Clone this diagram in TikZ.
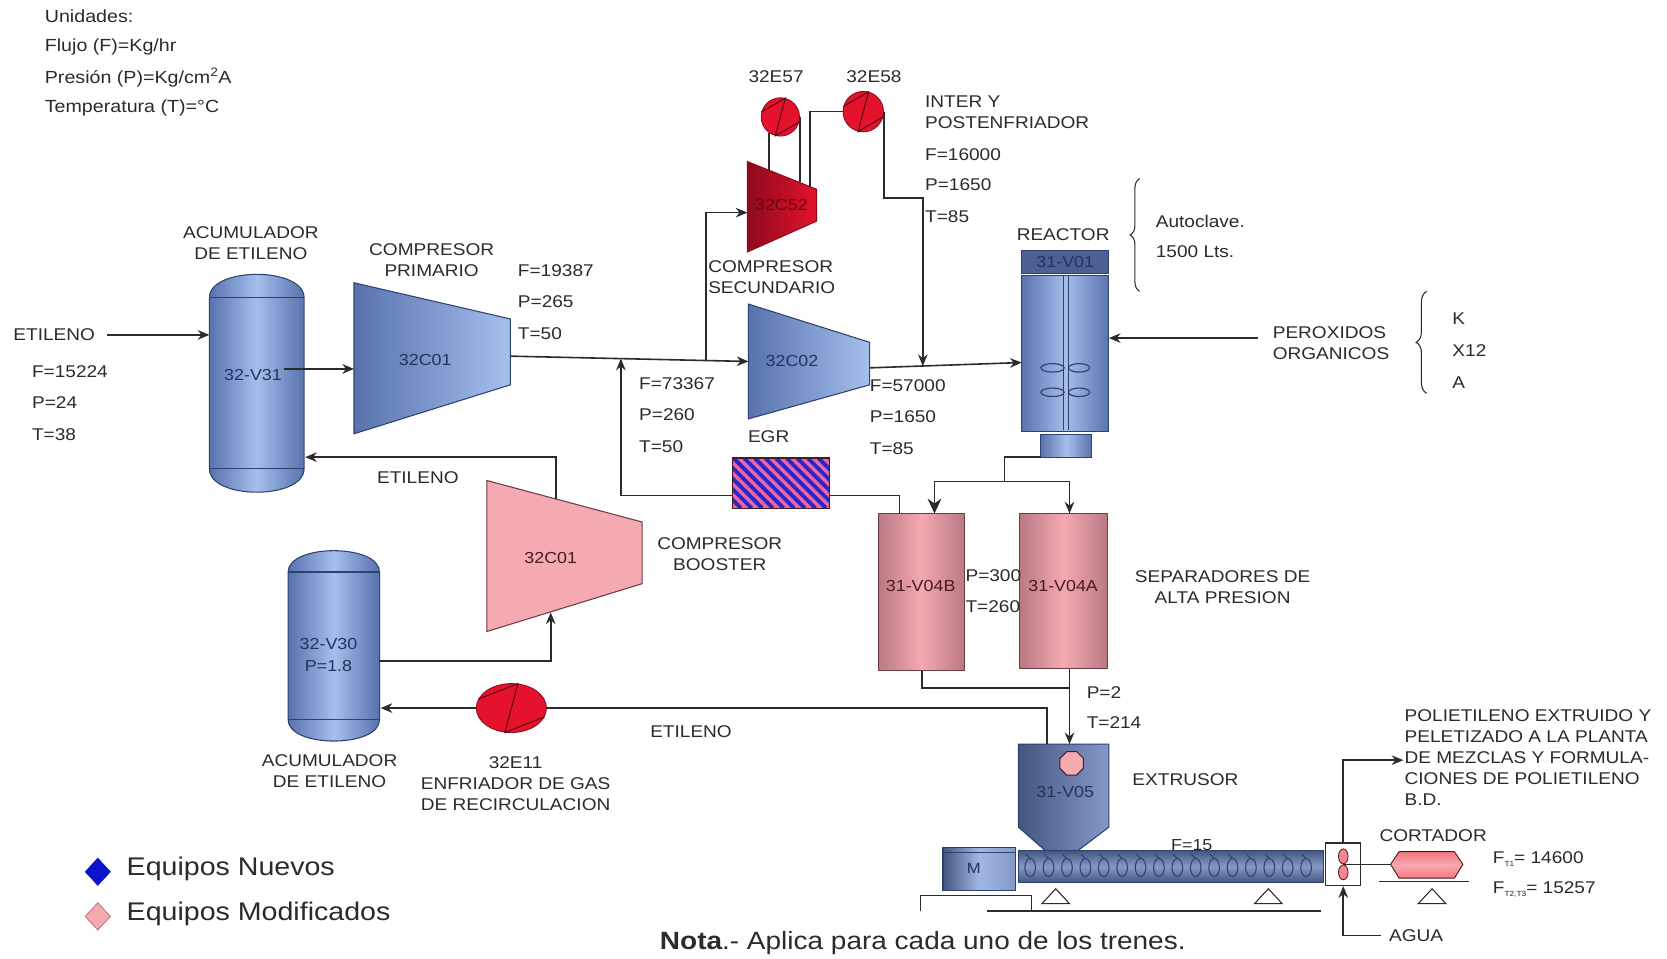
\documentclass[tikz,border=0pt]{standalone}
\usepackage{fontspec}
\setmainfont{Liberation Sans}[FakeStretch=1.12]
\usetikzlibrary{arrows.meta,decorations.pathreplacing,shapes.geometric}

\definecolor{ink}{HTML}{2B2B2B}
\definecolor{navy}{HTML}{2F4171}
\definecolor{tagblue}{HTML}{22335E}
\definecolor{blueL}{HTML}{A6BFEC}
\definecolor{blueD}{HTML}{5872AE}
\definecolor{slateD}{HTML}{44557E}
\definecolor{slateL}{HTML}{8599C9}
\definecolor{pinkL}{HTML}{F5A9B1}
\definecolor{pinkD}{HTML}{B97983}
\definecolor{pinkEdge}{HTML}{6E3C45}
\definecolor{maroon}{HTML}{4A1A22}
\definecolor{redE}{HTML}{E4122C}
\definecolor{redD}{HTML}{8E0A1C}
\definecolor{egrPink}{HTML}{E965A8}
\definecolor{egrBlue}{HTML}{2A26C4}
\definecolor{newBlue}{HTML}{0A12CC}

\begin{document}
\begin{tikzpicture}[x=1pt, y=-1pt,
  txt/.style={font=\fontsize{16}{19.5}\selectfont, text=ink, inner sep=0pt, align=center},
  txtl/.style={txt, anchor=west, align=left},
  unit/.style={txtl, font=\fontsize{16.5}{18}\selectfont},
  tag/.style={txt, font=\fontsize{15}{21}\selectfont, text=tagblue},
  ptag/.style={tag, text=maroon},
  pipe/.style={draw=ink, line width=1.5pt},
  flow/.style={pipe, -{Stealth[length=11pt,width=9pt]}},
  bigflow/.style={pipe, -{Stealth[length=14pt,width=13pt]}},
  vessel/.style={draw=navy, line width=1pt, left color=blueD, right color=blueD, middle color=blueL},
  compB/.style={draw=navy, line width=1pt, left color=blueD, right color=blueL},
  compR/.style={draw=redD, line width=1pt, left color=redD, right color=redE},
  compP/.style={draw=pinkEdge, line width=1pt, fill=pinkL},
  sepv/.style={draw=pinkEdge, line width=1.2pt, left color=pinkD, right color=pinkD, middle color=pinkL},
  hx/.style={circle, draw=redD, fill=redE, line width=0.8pt, inner sep=0pt},
  hxz/.style={draw=redD!60!black, line width=0.9pt},
  band/.style={draw=navy, line width=1.2pt},
  support/.style={draw=ink, line width=1pt, fill=white},
  bracestyle/.style={draw=ink, line width=1pt, decorate, decoration={brace, amplitude=9pt}}
]
\useasboundingbox (0,0) rectangle (1568,902);
\fill[white] (0,0) rectangle (1568,902);

% ---------- units ----------
\node[unit] (u0) at (42,15) {Unidades:};
\node[unit] (u1) at (42,44) {Flujo (F)=Kg/hr};
\node[unit] (u2) at (42,73) {Presión (P)=Kg/cm\textsuperscript{2}A};
\node[unit] (u3) at (42,102) {Temperatura (T)=°C};

% ---------- ethylene feed and accumulator 32-V31 ----------
\node[txt] (etin) at (51,315) {ETILENO};
\node[txtl] (fa) at (30,350) {F=15224};
\node[txtl] (pa) at (30,379) {P=24};
\node[txtl] (ta) at (30,409) {T=38};
\node[txt] (acu1) at (236,229) {ACUMULADOR\\DE ETILENO};

\path[vessel] (197,280) .. controls (197,250.7) and (286,250.7) .. (286,280)
  -- (286,441) .. controls (286,470.3) and (197,470.3) .. (197,441) -- cycle;
\draw[band] (197,280) -- (286,280) (197,441) -- (286,441);
\node[tag] (v31) at (238,353) {32-V31};
\coordinate (v31in) at (197,315);
\draw[flow] ([xshift=11pt]etin.east) -- (v31in);

% ---------- primary compressor 32C01 ----------
\node[txt] (cpri) at (406,245) {COMPRESOR\\PRIMARIO};
\path[compB] (333,266) -- (480,300) -- (480,362) -- (333,408) -- cycle;
\node[tag] (c1) at (400,339) {32C01};
\coordinate (c1in) at (333,347);
\draw[flow] ([xshift=2pt]v31.east |- c1in) -- (c1in);
\node[txtl] (fb) at (487,255) {F=19387};
\node[txtl] (pb) at (487,284) {P=265};
\node[txtl] (tb) at (487,314) {T=50};

% ---------- secondary compressor 32C02 and hyper stage 32C52 ----------
\path[compB] (704,286) -- (818,322) -- (818,362) -- (704,394) -- cycle;
\node[tag] (c2) at (745,340) {32C02};
\node[txtl] (csec) at (666,261) {COMPRESOR\\SECUNDARIO};
\node[txtl] (fc) at (601,361) {F=73367};
\node[txtl] (pc) at (601,390) {P=260};
\node[txtl] (tc) at (601,420) {T=50};

\path[compR] (703,152) -- (768,178) -- (768,208) -- (703,237) -- cycle;
\node[txt, font=\fontsize{15}{18}\selectfont, text=redD!70!black] (c52) at (735,193) {32C52};

% inter- and after-coolers
\node[hx, minimum size=36pt] (e57) at (734,110) {};
\node[hx, minimum size=38pt] (e58) at (812,105) {};
\node[txt] (l57) at (730,72) {32E57};
\node[txt] (l58) at (822,72) {32E58};
\node[txtl] (inter) at (870,105.5) {INTER Y\\POSTENFRIADOR};
\node[txtl] (fd) at (870,145) {F=16000};
\node[txtl] (pd) at (870,174) {P=1650};
\node[txtl] (td) at (870,204) {T=85};

\coordinate (c52t1) at (724,160.3);
\coordinate (c52t2) at (752,171.6);
\coordinate (c52t3) at (762,175.6);
\draw[pipe, line width=1.2pt] (e57.235) -- (e57.235 |- c52t1);
\draw[pipe, line width=1.2pt] (e57.east) -- (e57.east |- c52t2);
\draw[pipe, line width=1.2pt] (c52t3) |- (e58.west);

% main gas line
\coordinate (c1out) at (480,335);
\coordinate (c2in) at (704,340);
\draw[flow] (c1out) -- (c2in);
\coordinate (jb) at (664,339);
\coordinate (c52in) at (703,200);
\draw[flow] (jb) |- (c52in);

\coordinate (c2out) at (818,346);
\coordinate (rin) at (961,341);
\draw[flow] (c2out) -- (rin);
\coordinate (k58) at (868,186);
\coordinate (j3) at (868,344.3);
\draw[flow] (e58.east) |- (k58) -- (j3);
\node[txtl] (fe) at (818,363) {F=57000};
\node[txtl] (pe) at (818,392) {P=1650};
\node[txtl] (te) at (818,422) {T=85};

% ---------- EGR exchanger and recycle ----------
\node[txt] (egrl) at (723,411) {EGR};
\node[minimum width=91pt, minimum height=47pt, inner sep=0pt] (egr) at (734.5,454.5) {};
\begin{scope}
  \clip (egr.south west) rectangle (egr.north east);
  \fill[egrPink] (egr.south west) rectangle (egr.north east);
  \foreach \s in {630,640,...,790}
    \draw[egrBlue, line width=3.6pt] (\s,431) -- (\s+47,478);
\end{scope}
\draw[draw=maroon, line width=1pt] (egr.south west) rectangle (egr.north east);

\coordinate (jr) at (584,337.3);
\coordinate (egrL) at (689,466);
\coordinate (egrR) at (780,466);
\draw[flow] (egrL) -| (jr);

% ---------- reactor 31-V01 ----------
\node[txt] (reac) at (1000,221) {REACTOR};
\fill[draw=navy, line width=1pt, fill=blueD!85!black] (961,236) rectangle (1043,257);
\node[tag] (rv) at (1002,246.5) {31-V01};
\path[vessel] (961,259) rectangle (1043,406);
\draw[navy, line width=1pt] (1000,259) -- (1000,404) (1005,259) -- (1005,404);
\foreach \yy in {346,369} {
  \draw[navy, line width=1.1pt] (990,\yy) ellipse [x radius=11, y radius=4];
  \draw[navy, line width=1.1pt] (1015,\yy) ellipse [x radius=10, y radius=4];
}
\path[vessel] (979,409) rectangle (1027,430);

\draw[bracestyle] (1072,274) -- (1072,168);
\node[txtl] (auto) at (1087,208) {Autoclave.};
\node[txtl] (lts) at (1087,237) {1500 Lts.};

\node[txtl] (perox) at (1197,323) {PEROXIDOS\\ORGANICOS};
\coordinate (perin) at (1183,318);
\coordinate (rperox) at (1043,318);
\draw[flow] (perin) -- (rperox);
\draw[bracestyle, decoration={amplitude=10pt}] (1342,370) -- (1342,274);
\node[txtl] (kk) at (1366,300) {K};
\node[txtl] (xx) at (1366,330) {X12};
\node[txtl] (aa) at (1366,360) {A};

% ---------- high pressure separators ----------
\path[sepv] (826,483) rectangle (907,631);
\path[sepv] (959,483) rectangle (1042,629);
\node[ptag] (v4b) at (866,551) {31-V04B};
\node[ptag] (v4a) at (1000,551) {31-V04A};
\node[txtl] (pf) at (908,541) {P=300};
\node[txtl] (tf) at (908,571) {T=260};
\node[txt] (sepl) at (1150,552) {SEPARADORES DE\\ALTA PRESION};

\coordinate (rnoz) at (979,430);
\coordinate (jsplit) at (945,453);
\coordinate (v4bin) at (879,483);
\coordinate (v4ain) at (1006,483);
\draw[pipe] (rnoz) -| (jsplit);
\draw[bigflow] (jsplit) -| (v4bin);
\draw[flow] (jsplit) -| (v4ain);
\coordinate (v4bgas) at (846,483);
\draw[pipe] (v4bgas) |- (egrR);

\coordinate (v4bout) at (867,631);
\coordinate (jsep) at (1006,647);
\coordinate (v4aout) at (1006,629);
\coordinate (hopin) at (1006,700);
\draw[pipe] (v4bout) |- (jsep);
\draw[flow] (v4aout) -- (hopin);
\node[txtl] (pg) at (1022,651) {P=2};
\node[txtl] (tg) at (1022,680) {T=214};

% ---------- extruder ----------
\path[draw=navy, line width=1pt, top color=slateD, bottom color=slateD, middle color=slateL]
  (958,800) rectangle (1245,830);
\foreach \k in {0,...,15} {
  \draw[navy, line width=1pt] (969+17.3*\k,816) ellipse [x radius=5, y radius=8.5];
  \draw[navy, line width=1pt] (969+17.3*\k,807.5) -- ++(-4,-4);
}
\path[draw=navy, line width=1pt, left color=slateD, right color=slateL]
  (958,700) -- (1043,700) -- (1043,778) -- (1014,800) -- (983,800) -- (958,778) -- cycle;
\node[regular polygon, regular polygon sides=8, minimum size=24pt, inner sep=0pt,
  draw=maroon, fill=pinkL, line width=0.9pt] (oct) at (1008,718) {};
\node[tag] (v05) at (1002,745) {31-V05};
\node[txt] (extl) at (1115,733) {EXTRUSOR};
\node[txt, font=\fontsize{15}{18}\selectfont] (f15) at (1121,795) {F=15};

% motor and foundation
\path[draw=navy, line width=1pt, left color=slateD, right color=slateL, middle color=blueL!80!slateL]
  (887,797) rectangle (955,838);
\draw[navy, line width=1pt] (887,802) -- (955,802);
\node[tag, font=\fontsize{14}{16}\selectfont] (mot) at (916,817) {M};
\draw[pipe, line width=1.2pt] (866,857) -- (866,842) -- (970,842) -- (970,857);
\draw[pipe, line width=1.2pt] (928,857) -- (1243,857);
\draw[support] (993,836) -- (1006,850) -- (980,850) -- cycle;
\draw[support] (1193,836) -- (1206,850) -- (1180,850) -- cycle;

% ---------- cutter ----------
\node[draw=ink, line width=1.1pt, fill=white, minimum width=33pt, minimum height=40pt, inner sep=0pt] (cut) at (1263.5,813) {};
\coordinate (capL) at (1308,813);
\draw[pipe, line width=1.2pt] (cut.center) -- (capL);
\draw[draw=maroon, fill=pinkL!80!red, line width=0.8pt] (1263.5,805.5) ellipse [x radius=4.5, y radius=7];
\draw[draw=maroon, fill=pinkL!80!red, line width=0.8pt] (1263.5,820.5) ellipse [x radius=4.5, y radius=7];
\path[draw=maroon, line width=0.9pt, top color=pinkL!70!red, bottom color=pinkL!70!red, middle color=pinkL]
  (1308,813) -- (1316,801) -- (1368,801) -- (1376,813) -- (1368,826) -- (1316,826) -- cycle;
\draw[pipe, line width=1.2pt] (1297,829) -- (1382,829);
\draw[support] (1347,836) -- (1360,850) -- (1334,850) -- cycle;
\node[txt] (cort) at (1348,786) {CORTADOR};
\node[txtl] (ft1) at (1404,808) {F\raisebox{-3pt}{\fontsize{7}{7}\selectfont T1}= 14600};
\node[txtl] (ft2) at (1404,837) {F\raisebox{-3pt}{\fontsize{7}{7}\selectfont T2,T3}= 15257};

\node[txtl, font=\fontsize{16}{19.8}\selectfont] (prodl) at (1321,712.5)
  {POLIETILENO EXTRUIDO Y\\PELETIZADO A LA PLANTA\\DE MEZCLAS Y FORMULA-\\CIONES DE POLIETILENO\\B.D.};
\coordinate (prod) at (1320,715);
\draw[flow] (cut.north) |- (prod);

\node[txt] (agua) at (1332,880) {AGUA};
\draw[flow] ([xshift=-7pt]agua.west) -| (cut.south);

% ---------- booster section ----------
\node[txt] (etil2) at (393,449) {ETILENO};
\path[compP] (458,452) -- (604,491) -- (604,549) -- (458,594) -- cycle;
\node[ptag] (cb) at (518,525) {32C01};
\node[txt] (cbl) at (677,521.5) {COMPRESOR\\BOOSTER};

\path[vessel] (271,538) .. controls (271,511.3) and (357,511.3) .. (357,538)
  -- (357,677) .. controls (357,703.7) and (271,703.7) .. (271,677) -- cycle;
\draw[band] (271,538) -- (357,538) (271,677) -- (357,677);
\node[tag] (v30) at (309,616) {32-V30\\P=1.8};
\node[txt] (acu2) at (310,725.5) {ACUMULADOR\\DE ETILENO};

\coordinate (v30out) at (357,622);
\coordinate (bin) at (518,576);
\draw[flow] (v30out) -| (bin);
\coordinate (bout) at (523,469);
\coordinate (v31ret) at (287,430);
\draw[flow] (bout) |- (v31ret);

% recirculation gas cooler 32E11
\node[hx, ellipse, minimum width=66pt, minimum height=46pt] (e11) at (481,666) {};
\node[txt] (e11l) at (485,737) {32E11\\ENFRIADOR DE GAS\\DE RECIRCULACION};
\node[txt] (etil3) at (650,688) {ETILENO};
\coordinate (hopret) at (985,700);
\coordinate (v30ret) at (358,666);
\draw[pipe] (hopret) |- (e11.east);
\draw[flow] (e11.west) -- (v30ret);

\foreach \n in {e57,e58,e11}
  \draw[hxz] (\n.165) -- (\n.75) -- (\n.255) -- (\n.-15);

% ---------- legend and note ----------
\node[diamond, fill=newBlue, draw=newBlue, minimum width=24pt, minimum height=26pt, inner sep=0pt] (dnew) at (92,820) {};
\node[txtl, font=\fontsize{24}{28}\selectfont] (lnew) at (119,817) {Equipos Nuevos};
\node[diamond, fill=pinkL, draw=pinkD, line width=0.8pt, minimum width=24pt, minimum height=26pt, inner sep=0pt] (dmod) at (92,862) {};
\node[txtl, font=\fontsize{24}{28}\selectfont] (lmod) at (119,860) {Equipos Modificados};
\node[txt, font=\fontsize{23.5}{28}\selectfont] (nota) at (868,887) {\textbf{Nota}.- Aplica para cada uno de los trenes.};

\end{tikzpicture}
\end{document}
